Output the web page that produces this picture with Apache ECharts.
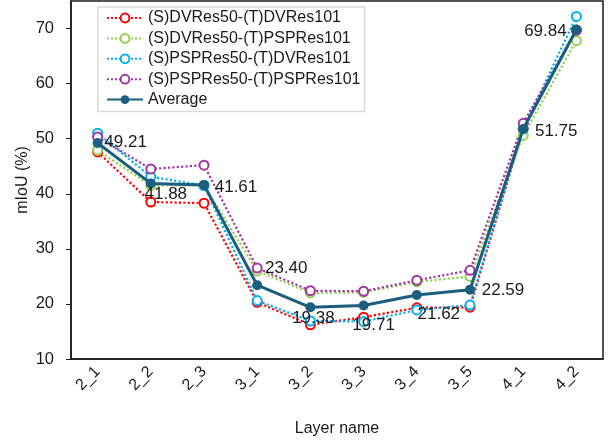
<!DOCTYPE html>
<html>
<head>
<meta charset="utf-8">
<script src="https://cdn.jsdelivr.net/npm/echarts@6/dist/echarts.min.js"></script>
<style>html,body{margin:0;padding:0;background:#fff}#c{width:611px;height:442px}</style>
</head>
<body>
<div id="c"></div>
<script>
const categories = ['2_1','2_2','2_3','3_1','3_2','3_3','3_4','3_5','4_1','4_2'];
const seriesNames = ['(S)DVRes50-(T)DVRes101','(S)DVRes50-(T)PSPRes101','(S)PSPRes50-(T)DVRes101','(S)PSPRes50-(T)PSPRes101','Average'];
const dvDv   = [47.6, 38.5, 38.3, 20.3, 16.2, 17.6, 19.3, 19.4, 51.8, 69.7];
const dvPsp  = [47.9, 41.5, 41.5, 26.0, 22.0, 22.1, 24.0, 25.0, 50.6, 67.8];
const pspDv  = [51.0, 43.1, 41.5, 20.6, 16.9, 16.8, 18.9, 19.8, 51.8, 72.2];
const pspPsp = [50.3, 44.5, 45.2, 26.5, 22.4, 22.3, 24.3, 26.1, 52.8, 69.7];
const average = [49.21, 41.88, 41.61, 23.40, 19.38, 19.71, 21.62, 22.59, 51.75, 69.84];
const yTicks = [10, 20, 30, 40, 50, 60, 70];

const FONT = 'Liberation Sans';
const labelOffsets = [[28,-1],[15,11],[32,2],[29,-17],[3,11],[10,20],[22,19],[33,1],[33,2],[-31,2]];
const colors = ['#ff0000','#92d050','#00b0f0','#a035a0','#1b5e7e'];

function dotted(name, data, color) {
  return {
    name, type: 'line', data,
    symbol: 'emptyCircle', symbolSize: 9,
    lineStyle: { type: 'dotted', width: 2.2, color },
    itemStyle: { color, borderColor: color, borderWidth: 1.2 },
    z: 2
  };
}

const chart = echarts.init(document.getElementById('c'));
chart.setOption({
  animation: false,
  textStyle: { fontFamily: FONT },
  grid: { left: 71, right: 8, top: 1, bottom: 79, show: true, borderColor: '#1a1a1a', borderWidth: 1.5 },
  legend: {
    orient: 'vertical', left: 98, top: 7,
    itemWidth: 36, itemHeight: 11, itemGap: 2.4,
    padding: [2, 4, 3, 8],
    borderColor: '#d9d9d9', borderWidth: 1.5, backgroundColor: '#fff',
    textStyle: { fontSize: 16, color: '#1a1a1a', lineHeight: 18, fontFamily: FONT },
    data: seriesNames
  },
  xAxis: {
    type: 'category', data: categories, boundaryGap: true,
    name: 'Layer name', nameLocation: 'middle', nameGap: 62,
    nameMoveOverlap: false,
    nameTextStyle: { fontSize: 16, color: '#1a1a1a' },
    axisLine: { lineStyle: { color: '#1a1a1a', width: 1.5 } },
    axisTick: { alignWithLabel: true, length: 5, lineStyle: { color: '#1a1a1a' } },
    axisLabel: { rotate: 45, fontSize: 16, color: '#1a1a1a', margin: 10 }
  },
  yAxis: {
    type: 'value', min: 10, max: 75, interval: 10,
    name: 'mIoU (%)', nameLocation: 'middle', nameGap: 40,
    nameMoveOverlap: false,
    nameTextStyle: { fontSize: 16, color: '#1a1a1a' },
    axisLine: { show: true, lineStyle: { color: '#1a1a1a', width: 1.5 } },
    axisTick: { show: true, length: 5, customValues: yTicks, lineStyle: { color: '#1a1a1a' } },
    axisLabel: { fontSize: 16.5, color: '#1a1a1a', margin: 17, customValues: yTicks },
    splitLine: { show: false }
  },
  series: [
    dotted(seriesNames[0], dvDv, colors[0]),
    dotted(seriesNames[1], dvPsp, colors[1]),
    dotted(seriesNames[2], pspDv, colors[2]),
    dotted(seriesNames[3], pspPsp, colors[3]),
    {
      name: seriesNames[4], type: 'line', z: 5,
      data: average.map((v, i) => ({
        value: v,
        label: { show: true, position: 'inside', offset: labelOffsets[i] }
      })),
      symbol: 'circle', symbolSize: 10,
      lineStyle: { width: 3, color: colors[4] },
      itemStyle: { color: colors[4] },
      label: {
        fontSize: 17, color: '#1a1a1a', fontFamily: FONT,
        formatter: p => p.value.toFixed(2)
      }
    }
  ]
});
</script>
</body>
</html>
